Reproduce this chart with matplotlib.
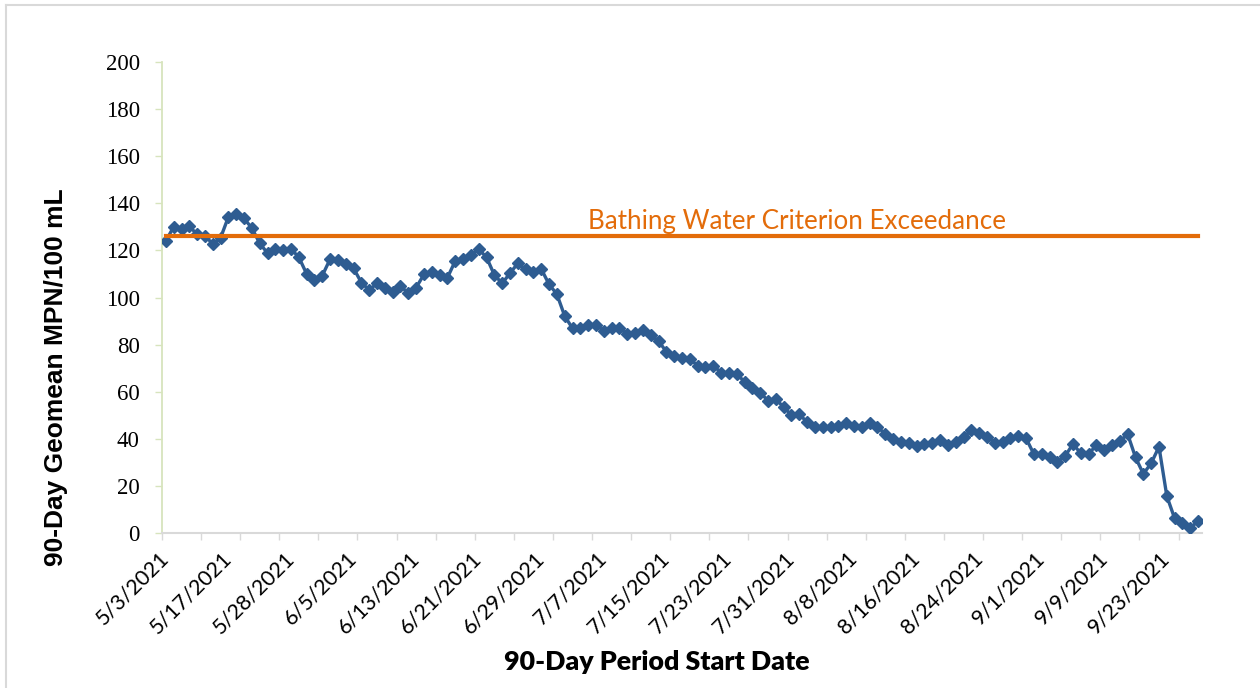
import matplotlib.pyplot as plt
from matplotlib.lines import Line2D
from matplotlib.ticker import MultipleLocator, FixedLocator

# 90-day geomean values, one per period start date
geomean = [
    124.0, 130.1, 129.0, 130.2, 126.8, 126.3, 122.6, 125.4, 134.3, 135.3,
    133.6, 129.4, 123.0, 118.8, 120.6, 120.2, 120.6, 117.1, 110.0, 107.4,
    109.3, 116.3, 115.9, 114.1, 112.4, 106.3, 103.2, 106.0, 103.9, 102.5,
    104.9, 101.8, 104.2, 109.8, 111.0, 109.6, 108.4, 115.5, 116.2, 118.0,
    120.5, 117.1, 109.6, 106.0, 110.3, 114.5, 112.0, 111.0, 112.1, 105.6,
    101.4, 92.1, 86.9, 86.9, 88.3, 88.3, 85.9, 86.9, 86.9, 84.5,
    84.8, 86.0, 84.1, 81.5, 77.0, 75.3, 74.2, 73.9, 71.1, 70.4,
    71.1, 68.1, 67.8, 67.4, 64.3, 61.4, 59.6, 56.2, 56.9, 53.4,
    50.1, 50.5, 47.0, 45.1, 45.1, 44.9, 45.4, 46.8, 45.4, 44.9,
    46.8, 45.1, 42.0, 39.8, 38.8, 38.1, 36.9, 37.8, 38.3, 39.5,
    37.4, 38.8, 40.6, 43.7, 42.3, 40.9, 38.3, 38.8, 40.2, 41.3,
    40.2, 33.5, 33.5, 32.1, 30.3, 32.7, 37.8, 33.8, 33.5, 37.4,
    35.2, 37.4, 39.1, 41.9, 32.1, 25.1, 29.6, 36.6, 15.7, 6.2,
    4.1, 2.0, 5.2,
]

# date labels shown on the axis (every 8th period)
date_labels = [
    "5/3/2021", "5/17/2021", "5/28/2021", "6/5/2021", "6/13/2021",
    "6/21/2021", "6/29/2021", "7/7/2021", "7/15/2021", "7/23/2021",
    "7/31/2021", "8/8/2021", "8/16/2021", "8/24/2021", "9/1/2021",
    "9/9/2021", "9/23/2021",
]
label_step = 8
tick_step = 5
criterion = 126
criterion_text = "Bathing Water Criterion Exceedance"

W, H = 1260, 688
fig = plt.figure(figsize=(W / 100, H / 100), dpi=100)
ax = fig.add_axes([162 / W, 1 - 533 / H, (1202 - 162) / W, (533 - 62) / H])

n = len(geomean)
xs = list(range(n))

blue = "#2E5C91"
orange = "#E36C0A"

ax.plot(xs, geomean, color=blue, lw=2.4, marker="D", ms=6, zorder=3)
ax.plot([0, n - 1], [criterion, criterion], color=orange, lw=3, zorder=4)
ax.text(54.0, 129.2, criterion_text, color=orange, fontsize=18.7,
        family="Lato", ha="left", va="baseline")

ax.set_xlim(-0.5, n - 0.5)
ax.set_ylim(0, 200)

# y axis
ax.yaxis.set_major_locator(MultipleLocator(20))
ax.tick_params(axis="y", which="major", length=5, width=1, color="#d7e4bd",
               pad=11, labelsize=16.5)
for lab in ax.get_yticklabels():
    lab.set_family("Liberation Serif")

# x axis: labels every 8 periods, tick marks every 5 (between categories)
ax.xaxis.set_major_locator(FixedLocator(xs[::label_step]))
ax.set_xticklabels(date_labels[: len(xs[::label_step])], rotation=45,
                   ha="right", va="center", rotation_mode="anchor",
                   family="Lato", fontsize=15.5)
ax.xaxis.set_minor_locator(FixedLocator([i - 0.5 for i in range(0, n, tick_step)]))
ax.tick_params(axis="x", which="major", length=0, pad=16)
ax.tick_params(axis="x", which="minor", length=5, width=1, color="#d9d9d9")

for side in ["top", "right"]:
    ax.spines[side].set_visible(False)
ax.spines["left"].set_color("#d7e4bd")
ax.spines["left"].set_linewidth(1.3)
ax.spines["bottom"].set_color("#d9d9d9")
ax.spines["bottom"].set_linewidth(1.5)

ax.set_ylabel("90-Day Geomean MPN/100 mL", family="Liberation Sans",
              fontweight="bold", fontsize=19)
ax.yaxis.set_label_coords((68 - 162) / 1040, (533 - 377) / 471)
fig.text(657 / W, 1 - 662 / H, "90-Day Period Start Date", family="Lato",
         fontweight="heavy", fontsize=19.3, ha="center", va="center")

# outer chart frame (top and left edges visible)
fig.add_artist(Line2D([6 / W, 6 / W], [0, 1 - 5 / H], color="#d9d9d9", lw=1.5))
fig.add_artist(Line2D([6 / W, 1], [1 - 5 / H, 1 - 5 / H], color="#d9d9d9", lw=1.5))

fig.savefig("out.png", dpi=100)
